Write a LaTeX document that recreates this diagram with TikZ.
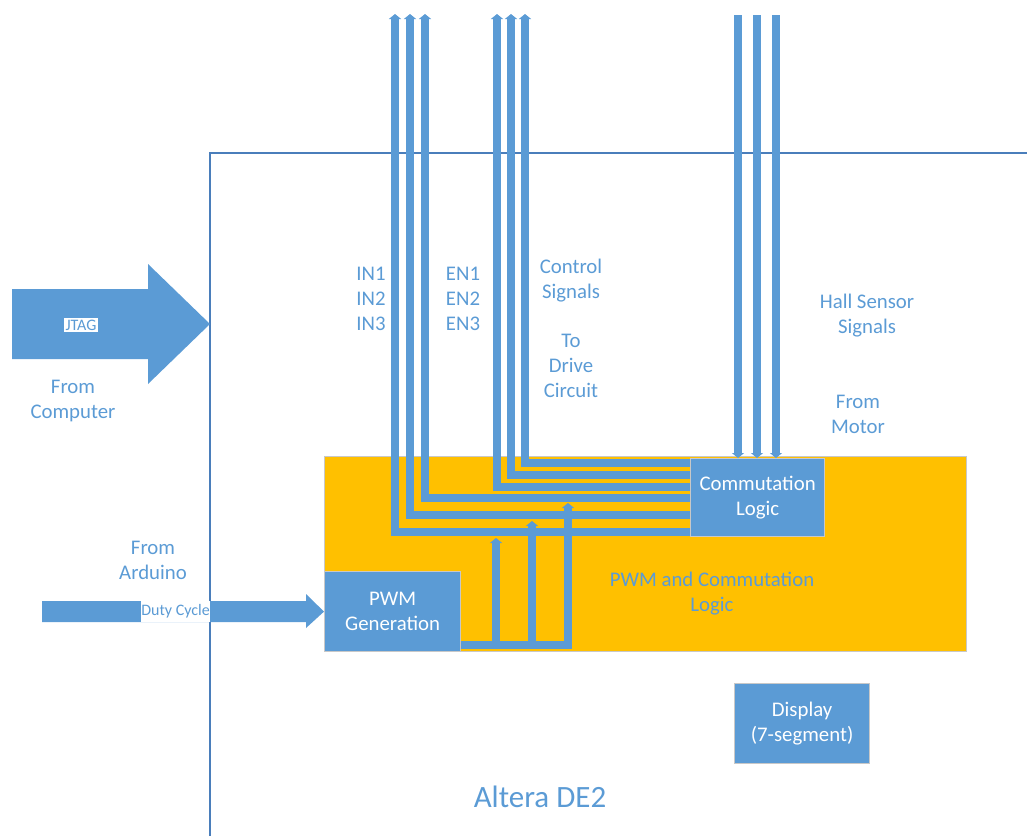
\documentclass[tikz,border=0pt]{standalone}
\usepackage{fontspec}
\setmainfont{Carlito}
\usetikzlibrary{arrows.meta}
\definecolor{msblue}{HTML}{5B9BD5}
\definecolor{msedge}{HTML}{4A7EBB}
\definecolor{msgold}{HTML}{FFC000}
\definecolor{msgrey}{HTML}{C8C8C8}

\begin{document}
\begin{tikzpicture}[x=1pt,y=-1pt,>={Triangle[length=5pt,width=12pt]},
  font=\fontsize{20.8}{25}\selectfont,
  wire/.style={draw=msblue,line width=7.5pt},
  blk/.style={fill=msblue,draw=msgrey,line width=1.2pt,text=white,align=center,anchor=north west},
  lbl/.style={text=msblue,align=center},
  tag/.style={fill=white,text=msblue,inner sep=1.5pt,font=\fontsize{16}{18}\selectfont}]
  \useasboundingbox (0,0) rectangle (1027,836);
  % board outline
  \draw[msedge,line width=1.6pt] (210,836) -- (210,153) -- (1027,153);
  % fpga logic area and blocks
  \node[fill=msgold,draw=msgrey,line width=1.2pt,minimum width=642,minimum height=195,anchor=north west] (core) at (324,456) {};
  \node[blk,minimum width=136,minimum height=80] (pwm) at (324,571) {PWM\\Generation};
  \node[blk,minimum width=134,minimum height=78] (comm) at (690,458) {Commutation\\Logic};
  \node[blk,minimum width=135,minimum height=80] (disp) at (734,683) {Display\\(7-segment)};
  \node[lbl] (corelbl) at (712,594) {PWM and Commutation\\Logic};
  \node[lbl,font=\fontsize{31}{36}\selectfont] (board) at (540,797) {Altera DE2};
  % outputs to drive circuit
  \coordinate (in1) at (395,14); \coordinate (in2) at (410,14); \coordinate (in3) at (425,14);
  \coordinate (en1) at (497,14); \coordinate (en2) at (511,14); \coordinate (en3) at (525,14);
  \draw[wire,->] (comm.west |- 0,532) -| (in1);
  \draw[wire,->] (comm.west |- 0,515) -| (in2);
  \draw[wire,->] (comm.west |- 0,498) -| (in3);
  \draw[wire,->] (comm.west |- 0,487) -| (en1);
  \draw[wire,->] (comm.west |- 0,475) -| (en2);
  \draw[wire,->] (comm.west |- 0,463) -| (en3);
  % hall sensor inputs
  \coordinate (h1) at (738,15); \coordinate (h2) at (757,15); \coordinate (h3) at (776,15);
  \draw[wire,->] (h1) -- (h1 |- comm.north);
  \draw[wire,->] (h2) -- (h2 |- comm.north);
  \draw[wire,->] (h3) -- (h3 |- comm.north);
  % pwm to commutation
  \coordinate (p1) at (496,538); \coordinate (p2) at (532,521); \coordinate (p3) at (568,503);
  \draw[wire,->] (pwm.east |- 0,645) -| (p1);
  \draw[wire,->] (pwm.east |- 0,645) -| (p2);
  \draw[wire,->] (pwm.east |- 0,645) -| (p3);
  % jtag and duty cycle arrows
  \fill[msblue] (12,289) -- (148,289) -- (148,264) -- (210,324) -- (148,384) -- (148,359) -- (12,359) -- cycle;
  \node[tag] (jtag) at (81,325) {JTAG};
  \fill[msblue] (42,601) -- (306,601) -- (306,594) -- (pwm.west) -- (306,628) -- (306,622) -- (42,622) -- cycle;
  \node[tag,minimum height=21,inner xsep=0pt,anchor=east] (duty) at (210,611) {Duty Cycle};
  % labels
  \node[lbl] (inlbl) at (371,299) {IN1\\IN2\\IN3};
  \node[lbl] (enlbl) at (463,299) {EN1\\EN2\\EN3};
  \node[lbl] (ctrl) at (571,281) {Control\\Signals};
  \node[lbl] (drive) at (571,366) {To\\Drive\\Circuit};
  \node[lbl] (hall) at (867,316) {Hall Sensor\\Signals};
  \node[lbl] (motor) at (858,414) {From\\Motor};
  \node[lbl] (comp) at (73,401) {From\\Computer};
  \node[lbl] (ard) at (153,560) {From\\Arduino};
\end{tikzpicture}
\end{document}
